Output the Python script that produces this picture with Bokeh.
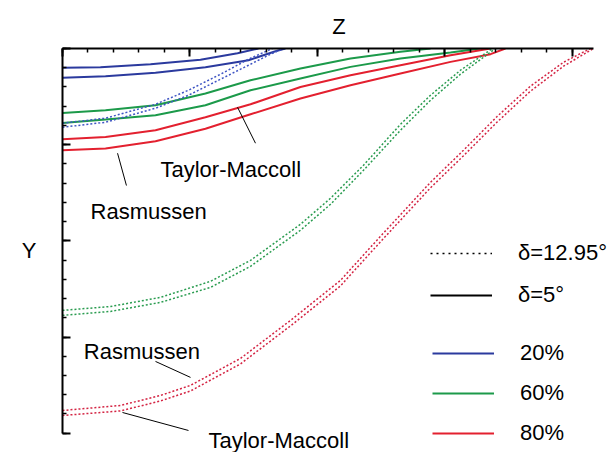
from bokeh.plotting import figure
from bokeh.models import Range1d, Label, Legend, LegendItem, SingleIntervalTicker, CustomJSTickFormatter
from bokeh.embed import file_html
from bokeh.resources import INLINE

FONT = "Liberation Sans"
FS = "22px"

# ---- data (Z, Y) ----
# delta = 5 deg (solid)
blue_solid_a_z = [0, 0.298, 0.691, 1.083, 1.374, 1.538]
blue_solid_a_y = [3.800, 3.805, 3.837, 3.884, 3.951, 4.0]
blue_solid_b_z = [0, 0.338, 0.730, 1.122, 1.460, 1.672, 1.750]
blue_solid_b_y = [3.696, 3.712, 3.748, 3.805, 3.878, 3.972, 4.0]

green_solid_a_z = [0, 0.338, 0.730, 1.122, 1.476, 1.868, 2.261, 2.653, 2.889]
green_solid_a_y = [3.330, 3.358, 3.410, 3.532, 3.670, 3.792, 3.896, 3.965, 4.0]
green_solid_b_z = [0, 0.338, 0.730, 1.122, 1.476, 1.868, 2.261, 2.653, 3.046, 3.281]
green_solid_b_y = [3.226, 3.261, 3.306, 3.410, 3.566, 3.688, 3.809, 3.896, 3.958, 4.0]

red_solid_a_z = [0, 0.338, 0.730, 1.122, 1.476, 1.868, 2.261, 2.653, 3.046, 3.360]
red_solid_a_y = [3.056, 3.080, 3.150, 3.285, 3.420, 3.600, 3.722, 3.826, 3.930, 4.0]
red_solid_b_z = [0, 0.338, 0.730, 1.122, 1.476, 1.868, 2.261, 2.653, 3.046, 3.360, 3.477]
red_solid_b_y = [2.942, 2.959, 3.035, 3.165, 3.316, 3.480, 3.618, 3.740, 3.861, 3.941, 4.0]

# delta = 12.95 deg (dotted)
blue_dot_a_z = [0, 0.338, 0.730, 0.989, 1.256, 1.460, 1.648]
blue_dot_a_y = [3.223, 3.275, 3.420, 3.566, 3.743, 3.889, 4.0]
blue_dot_b_z = [0, 0.338, 0.730, 0.989, 1.256, 1.460, 1.633, 1.735]
blue_dot_b_y = [3.181, 3.233, 3.379, 3.514, 3.691, 3.826, 3.941, 4.0]

green_dot_a_z = [0, 0.377, 0.769, 1.162, 1.476, 1.868, 2.104, 2.363, 2.653, 2.889, 3.124, 3.375]
green_dot_a_y = [1.277, 1.317, 1.412, 1.579, 1.797, 2.172, 2.443, 2.786, 3.212, 3.514, 3.774, 4.0]
green_dot_b_z = [0, 0.377, 0.769, 1.162, 1.476, 1.868, 2.104, 2.363, 2.653, 2.889, 3.124, 3.399]
green_dot_b_y = [1.225, 1.266, 1.360, 1.516, 1.735, 2.110, 2.380, 2.734, 3.150, 3.462, 3.733, 4.0]

red_dot_a_z = [0, 0.455, 0.769, 1.005, 1.397, 1.790, 2.182, 2.496, 2.889, 3.148, 3.414, 3.673, 3.933, 4.144]
red_dot_a_y = [0.236, 0.288, 0.392, 0.497, 0.777, 1.173, 1.589, 2.047, 2.609, 2.942, 3.296, 3.608, 3.857, 4.0]
red_dot_b_z = [0, 0.455, 0.769, 1.005, 1.397, 1.790, 2.182, 2.496, 2.889, 3.148, 3.414, 3.673, 3.933, 4.168]
red_dot_b_y = [0.184, 0.231, 0.335, 0.439, 0.720, 1.116, 1.532, 1.990, 2.552, 2.885, 3.238, 3.556, 3.816, 4.0]

# annotations
label_text = ["Taylor-Maccoll", "Rasmussen", "Rasmussen", "Taylor-Maccoll"]
label_z = [0.769, 0.220, 0.167, 1.146]
label_y = [2.739, 2.302, 0.850, -0.080]
leader_z0 = [1.374, 0.432, 0.730, 0.471]
leader_y0 = [3.389, 2.911, 0.746, 0.215]
leader_z1 = [1.515, 0.502, 1.005, 0.989]
leader_y1 = [3.015, 2.575, 0.580, 0.028]

legend_delta = ["\u03b4=12.95\u00b0", "\u03b4=5\u00b0"]
legend_pct = ["20%", "60%", "80%"]

BLUE = "#2b3a9e"
GREEN = "#1c9a4a"
RED = "#e3202f"
BLUE_D = "#3f55c4"
GREEN_D = "#2a9c50"
RED_D = "#d42443"

p = figure(width=615, height=452, x_range=Range1d(0, 4.341), y_range=Range1d(-0.201, 4.0),
           x_axis_location="above", y_axis_location="left",
           output_backend="svg", toolbar_location=None,
           min_border_left=62, min_border_right=0, min_border_top=48, min_border_bottom=0)
p.xgrid.visible = False
p.ygrid.visible = False
p.outline_line_color = None
p.border_fill_color = "white"

blank = CustomJSTickFormatter(code="return ''")
for ax in (p.xaxis[0], p.yaxis[0]):
    ax.axis_line_width = 2
    ax.axis_line_color = "black"
    ax.major_tick_in = 8
    ax.major_tick_out = 0
    ax.minor_tick_in = 4
    ax.minor_tick_out = 0
    ax.major_tick_line_width = 2
    ax.minor_tick_line_width = 1.5
    ax.formatter = blank
    ax.major_label_standoff = 0
    ax.axis_label_text_font = FONT
    ax.axis_label_text_font_size = FS
    ax.axis_label_text_font_style = "normal"
    ax.axis_label_text_color = "black"
    ax.ticker = SingleIntervalTicker(interval=1, num_minor_ticks=5)

p.xaxis.bounds = (0, 4.168)
p.yaxis.bounds = (0, 4.0)
p.xaxis.axis_label = "Z"
p.xaxis.axis_label_standoff = 10
p.yaxis.axis_label = "Y"
p.yaxis.axis_label_orientation = "horizontal"
p.yaxis.axis_label_standoff = 26

# solid (delta = 5)
for zz, yy, c in [(blue_solid_a_z, blue_solid_a_y, BLUE), (blue_solid_b_z, blue_solid_b_y, BLUE),
                  (green_solid_a_z, green_solid_a_y, GREEN), (green_solid_b_z, green_solid_b_y, GREEN),
                  (red_solid_a_z, red_solid_a_y, RED), (red_solid_b_z, red_solid_b_y, RED)]:
    p.line(zz, yy, line_color=c, line_width=2)

# dotted (delta = 12.95)
for zz, yy, c in [(blue_dot_a_z, blue_dot_a_y, BLUE_D), (blue_dot_b_z, blue_dot_b_y, BLUE_D),
                  (green_dot_a_z, green_dot_a_y, GREEN_D), (green_dot_b_z, green_dot_b_y, GREEN_D),
                  (red_dot_a_z, red_dot_a_y, RED_D), (red_dot_b_z, red_dot_b_y, RED_D)]:
    p.line(zz, yy, line_color=c, line_width=1.5, line_dash="2 2")

# leader lines
p.segment(x0=leader_z0, y0=leader_y0, x1=leader_z1, y1=leader_y1, line_color="black", line_width=1)

for t, zx, yy in zip(label_text, label_z, label_y):
    p.add_layout(Label(x=zx, y=yy, text=t, text_font=FONT, text_font_size=FS,
                       text_color="black", text_baseline="alphabetic", text_align="left"))

# legend-only renderers (no visible data)
nan = float("nan")
r_dot = p.line(x=[nan], y=[nan], line_color="black", line_width=1.5, line_dash="2 4")
r_sol = p.line(x=[nan], y=[nan], line_color="black", line_width=2)
r_b = p.line(x=[nan], y=[nan], line_color=BLUE, line_width=2)
r_g = p.line(x=[nan], y=[nan], line_color=GREEN, line_width=2)
r_r = p.line(x=[nan], y=[nan], line_color=RED, line_width=2)

common = dict(label_text_font=FONT, label_text_font_size=FS, label_text_color="black",
              glyph_width=62, glyph_height=30, label_height=30, padding=0, margin=0,
              label_standoff=26, background_fill_alpha=0, border_line_alpha=0)
leg1 = Legend(items=[LegendItem(label=legend_delta[0], renderers=[r_dot]),
                     LegendItem(label=legend_delta[1], renderers=[r_sol])],
              location=(368, 142), spacing=12, **common)
leg2 = Legend(items=[LegendItem(label=legend_pct[0], renderers=[r_b]),
                     LegendItem(label=legend_pct[1], renderers=[r_g]),
                     LegendItem(label=legend_pct[2], renderers=[r_r])],
              location=(370, 4), spacing=10, **common)
p.add_layout(leg1)
p.add_layout(leg2)

open("out.html", "w").write(file_html(p, INLINE))
